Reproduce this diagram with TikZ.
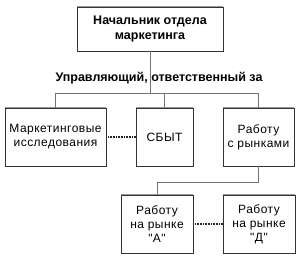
\documentclass[tikz,border=0pt]{standalone}
\usepackage{fontspec}
\setmainfont{Liberation Sans}
\newfontfamily\spacedfont[LetterSpace=4]{Liberation Sans}
\begin{document}
\begin{tikzpicture}[x=1pt,y=-1pt,
 box/.style={draw=black!80, line width=0.8pt, rectangle, align=center,
   font=\spacedfont\fontsize{12}{14}\selectfont, inner sep=0pt},
 conn/.style={draw=black!55, line width=1pt},
 dots/.style={draw=black!85, line width=1.2pt, dash pattern=on 0.7pt off 0.9pt},
 topedge/.style={draw=black!40, line width=1.6pt},
 lbl/.style={font=\fontsize{12.5}{14}\selectfont\bfseries, inner sep=1pt}
 ]
\useasboundingbox (0,0) rectangle (299,258);
\node[box, minimum width=146pt, minimum height=44pt, font=\fontsize{12.5}{14.5}\selectfont\bfseries] (head) at (150,29) {Начальник отдела\\маркетинга};
\node[box, minimum width=101pt, minimum height=58pt] (left) at (55.5,137) {Маркетинговые\\исследования};
\node[box, minimum width=57pt, minimum height=58pt] (mid) at (164.5,137) {СБЫТ};
\node[box, minimum width=71pt, minimum height=58pt] (right) at (258.5,137) {Работу\\с рынками};
\node[box, minimum width=72pt, minimum height=58pt] (ll) at (157,224) {Работу\\на рынке\\"А"};
\node[box, minimum width=72pt, minimum height=58pt] (lr) at (259,224) {Работу\\на рынке\\"Д"};
\foreach \n in {head,left,mid,right,ll,lr}{
  \draw[topedge] (\n.north west) -- (\n.north east);
}
\coordinate (jl) at (55.5,93);
\coordinate (jr) at (258.5,93);
\coordinate (bus) at (150,93);
\coordinate (jl2) at (157,182);
\draw[conn] (head.south) -- (bus);
\draw[conn] (left.north) -- (jl) -- (jr) -- (right.north);
\draw[conn] (mid.north) -- (mid.north |- jl);
\draw[conn] (right.south) -- (right.south |- jl2) -- (jl2) -- (ll.north);
\node[lbl] (label) at (159,78) {Управляющий, ответственный за};
\draw[dots] (left.east) -- (mid.west);
\draw[dots] (ll.east) -- (lr.west);
\end{tikzpicture}
\end{document}
